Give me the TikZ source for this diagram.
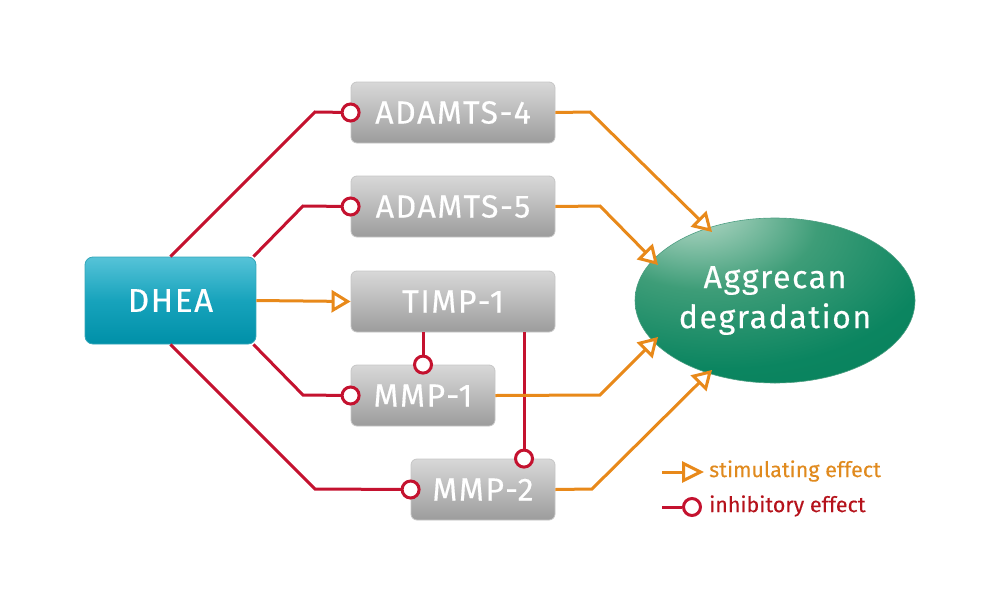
\documentclass[tikz,border=0pt]{standalone}
\usepackage{fontspec}
\setmainfont{Fira Sans}
\newfontfamily\boxfont{Fira Sans}[LetterSpace=5, FakeBold=0.4]
\newfontfamily\legfont{Fira Sans}[FakeBold=0.2]
\usetikzlibrary{arrows.meta,shapes.geometric}
\definecolor{ired}{HTML}{C4122F}
\definecolor{sorange}{HTML}{E8891A}
\definecolor{lred}{HTML}{B5121B}
\definecolor{lorange}{HTML}{E08A1E}
\definecolor{gtop}{HTML}{D8D8D8}
\definecolor{gmid}{HTML}{BBBBBB}
\definecolor{gbot}{HTML}{9C9C9C}
\definecolor{ttop}{HTML}{56C3D8}
\definecolor{tmid}{HTML}{17A3BC}
\definecolor{tbot}{HTML}{0090A8}
\definecolor{gl1}{HTML}{B3D8C6}
\definecolor{gl2}{HTML}{3E9D78}
\definecolor{gl3}{HTML}{0B8560}
\definecolor{gl4}{HTML}{00744C}
\pgfdeclareradialshading{greenball}{\pgfpoint{-16bp}{30bp}}{color(0bp)=(gl1); color(3bp)=(gl1); color(20bp)=(gl2); color(38bp)=(gl3); color(90bp)=(gl4)}
\tikzset{
  graybox/.style={draw=gray!45, line width=0.8pt, rounded corners=6pt, top color=gtop, bottom color=gbot, middle color=gmid,
    minimum height=61pt, text=white, font=\boxfont\fontsize{32}{34}\selectfont, inner sep=0pt},
  dheabox/.style={draw=tbot!80, line width=0.8pt, rounded corners=8pt, top color=ttop, bottom color=tbot, middle color=tmid,
    minimum width=171pt, minimum height=87pt, text=white, font=\boxfont\fontsize{33}{34}\selectfont, inner sep=0pt},
  aggnode/.style={ellipse, draw=gl4!70, line width=0.6pt, shading=greenball, minimum width=280pt, minimum height=165pt,
    text=white, align=center, font=\boxfont\fontsize{32}{40}\selectfont, inner sep=0pt},
  stim/.style={draw=sorange, line width=3pt, -{Triangle[open, fill=white, length=19pt, width=22pt]}},
  legstim/.style={draw=sorange, line width=3pt, -{Triangle[open, fill=white, length=22pt, width=21pt]}},
  inhline/.style={draw=ired, line width=3pt},
  inh/.style={circle, draw=ired, line width=3pt, fill=white, minimum size=17pt, inner sep=0pt},
  legtext/.style={anchor=west, inner sep=0pt, font=\legfont\fontsize{21.5}{24}\selectfont},
}
\begin{document}
\begin{tikzpicture}[x=1pt, y=-1pt]
\useasboundingbox (0,0) rectangle (1000,605);

% bend coordinates
\coordinate (ra4) at (315,112);
\coordinate (ra5) at (303,206);
\coordinate (rm1) at (303,395);
\coordinate (rm2) at (315,489);
\coordinate (oa4) at (590,112);
\coordinate (oa5) at (600,206);
\coordinate (om1) at (600,395);
\coordinate (om2) at (592,489);
\coordinate (ta4) at (712,232);
\coordinate (ta5) at (658,265);
\coordinate (tm1) at (658,337);
\coordinate (tm2) at (712,370);

% nodes
\node[dheabox] (dhea) at (170.5,300.5) {DHEA};
\node[graybox, minimum width=204pt] (a4) at (453,112.5) {ADAMTS-4};
\node[graybox, minimum width=204pt] (a5) at (453,206.5) {ADAMTS-5};
\node[graybox, minimum width=204pt] (timp) at (453,301.5) {TIMP-1};
\node[graybox, minimum width=144pt] (m1) at (423,395.5) {MMP-1};
\node[graybox, minimum width=144pt] (m2) at (483,489.5) {MMP-2};
\node[aggnode] (agg) at (775,300.5) {Aggrecan\\degradation};

% inhibitory connectors
\draw[inhline] (dhea.north) -- (ra4) -- (a4.west);
\draw[inhline] (dhea.north east) ++(-3,0) coordinate (dne) -- (ra5) -- (a5.west);
\draw[inhline] (dhea.south east) ++(-3,0) coordinate (dse) -- (rm1) -- (m1.west);
\draw[inhline] (dhea.south) -- (rm2) -- (m2.west);
\draw[inhline] (timp.south -| m1.north) -- (m1.north);
\coordinate (tx) at (524,0);
\draw[inhline] (timp.south -| tx) -- (m2.north -| tx);

% stimulating connectors
\draw[stim] (dhea.east) -- (timp.west);
\draw[stim] (a4.east) -- (oa4) -- (ta4);
\draw[stim] (a5.east) -- (oa5) -- (ta5);
\draw[stim] (m1.east) -- (om1) -- (tm1);
\draw[stim] (m2.east) -- (om2) -- (tm2);

% inhibition circles
\node[inh] (c1) at (a4.west) {};
\node[inh] (c2) at (a5.west) {};
\node[inh] (c3) at (m1.west) {};
\node[inh] (c4) at (m2.west) {};
\node[inh] (c5) at (m1.north) {};
\node[inh] (c6) at (m2.north -| tx) {};

% legend
\coordinate (ls1) at (662,472);
\coordinate (ls2) at (704,472);
\draw[legstim] (ls1) -- (ls2);
\node[legtext, text=lorange] (lt1) at (709,471) {stimulating effect};
\coordinate (li1) at (662,507);
\node[inh] (lc) at (692,507) {};
\draw[inhline] (li1) -- (lc.west);
\node[legtext, text=lred] (lt2) at (709,506) {inhibitory effect};
\end{tikzpicture}
\end{document}
